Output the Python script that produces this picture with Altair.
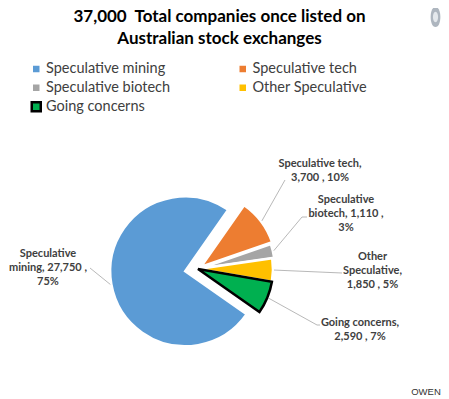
import math
import altair as alt
import pandas as pd

# ---------------- data ----------------
categories = ["Speculative mining", "Speculative tech", "Speculative biotech",
              "Other Speculative", "Going concerns"]
counts = [27750, 3700, 1110, 1850, 2590]
label_texts = [
    "Speculative\nmining, 27,750 ,\n75%",
    "Speculative tech,\n3,700 , 10%",
    "Speculative\nbiotech, 1,110 ,\n3%",
    "Other\nSpeculative,\n1,850 , 5%",
    "Going concerns,\n2,590 , 7%",
]
title_lines = ["37,000\u00a0 Total companies once listed on", "Australian stock exchanges"]
source_text = "OWEN"

# ---------------- styles / layout ----------------
colors = ["#5B9BD5", "#ED7D31", "#A5A5A5", "#FFC000", "#00B050"]
strokes = ["white", "white", "white", "white", "black"]
stroke_widths = [2.5, 2.5, 2.5, 2.5, 2.5]
explode = [13, 4, 2, 0, 0]
W, H, PAD_TOP = 433, 343, 46
OX, OY = 8, 8 + PAD_TOP          # page position of plot origin
CX, CY, R = 198 - OX, 269 - OY, 75
START = math.radians(125)
# label first-line centres and leader end points (page coordinates)
label_pos = [(48, 254), (320, 163.5), (346, 200), (372.5, 257), (360, 323)]
leader_end = [[(90, 268)], [(285, 180)], [(302, 217), (307, 217)],
              [(342, 273)], [(317, 325), (320, 325)]]
title_pos = [(219.5, 21.5), (219.5, 44)]
source_pos = (426, 391.5)
TXT = "#404040"

total = sum(counts)
starts, ends = [], []
acc = 0
for v in counts:
    starts.append(acc)
    acc += v
    ends.append(acc)
mids = [START + 2 * math.pi * (s + v / 2) / total for s, v in zip(starts, counts)]

df = pd.DataFrame({"cat": categories, "count": counts, "start": starts, "end": ends})

theta_scale = alt.Scale(domain=[0, total], range=[START, START + 2 * math.pi])
color_scale = alt.Scale(domain=categories, range=colors)
stroke_scale = alt.Scale(domain=categories, range=strokes)
legend = alt.Legend(title=None, orient="none", legendX=21, legendY=7.5, columns=2,
                    direction="horizontal",
                    symbolType="square", symbolSize=81, symbolStrokeWidth=2.5,
                    labelFont="Lato", labelFontSize=14.5, labelColor=TXT,
                    columnPadding=61.5, rowPadding=-1, padding=0, labelOffset=2.5)

layers = []
for i, c in enumerate(categories):
    a = mids[i]
    dx = explode[i] * math.sin(a)
    dy = -explode[i] * math.cos(a)
    layers.append(
        alt.Chart(df).transform_filter(alt.datum.cat == c)
        .mark_arc(outerRadius=R, strokeWidth=stroke_widths[i], strokeJoin="miter")
        .encode(
            theta=alt.Theta("start:Q", scale=theta_scale, stack=None),
            theta2="end:Q",
            color=alt.Color("cat:N", scale=color_scale, legend=legend),
            stroke=alt.Stroke("cat:N", scale=stroke_scale, legend=legend),
            x=alt.value(CX + dx),
            y=alt.value(CY + dy),
        )
    )

# leader lines
rows = []
for i, c in enumerate(categories):
    a = mids[i]
    ox = CX + explode[i] * math.sin(a)
    oy = CY - explode[i] * math.cos(a)
    pts = [(ox + (R + 1) * math.sin(a), oy - (R + 1) * math.cos(a))]
    pts += [(px - OX, py - OY) for px, py in leader_end[i]]
    for k, (px, py) in enumerate(pts):
        rows.append({"cat": c, "k": k, "px": px, "py": py})
lines_df = pd.DataFrame(rows)
leaders = alt.Chart(lines_df).mark_line(color="#A6A6A6", strokeWidth=0.8).encode(
    x=alt.X("px:Q", scale=None, axis=None),
    y=alt.Y("py:Q", scale=None, axis=None),
    detail="cat:N",
    order="k:Q",
)

lab_df = pd.DataFrame({"cat": categories, "text": label_texts,
                       "lx": [p[0] - OX for p in label_pos],
                       "ly": [p[1] - OY for p in label_pos]})
labels = alt.Chart(lab_df).mark_text(
    font="Lato", fontSize=11, fontWeight="bold", color=TXT, align="center",
    baseline="middle", lineBreak="\n", lineHeight=14
).encode(
    x=alt.X("lx:Q", scale=None, axis=None),
    y=alt.Y("ly:Q", scale=None, axis=None),
    text="text:N",
)

title_df = pd.DataFrame({"t": title_lines,
                         "tx": [p[0] - OX for p in title_pos],
                         "ty": [p[1] - OY for p in title_pos]})
title = alt.Chart(title_df).mark_text(
    font="Lato", fontSize=17, fontWeight="bold", color="black", align="center",
    baseline="alphabetic"
).encode(
    x=alt.X("tx:Q", scale=None, axis=None),
    y=alt.Y("ty:Q", scale=None, axis=None),
    text="t:N",
)

src = alt.Chart(pd.DataFrame({"t": [source_text]})).mark_text(
    font="Liberation Sans", fontSize=9.5, color="#333333", align="center", baseline="middle"
).encode(x=alt.value(source_pos[0] - OX), y=alt.value(source_pos[1] - OY), text="t:N")

logo_df = pd.DataFrame({"s": [400, 110], "c": ["#AEB6BF", "#E4E8EC"]})
logo = alt.Chart(logo_df).mark_point(
    shape="M0,-1C0.65,-1 0.65,1 0,1C-0.65,1 -0.65,-1 0,-1Z", filled=True, opacity=1
).encode(
    x=alt.value(435.5 - OX), y=alt.value(17 - OY),
    size=alt.Size("s:Q", scale=None, legend=None),
    color=alt.Color("c:N", scale=None, legend=None),
)

chart = alt.layer(*layers, leaders, labels, title, src, logo).properties(
    width=W, height=H, autosize="none",
    padding={"top": PAD_TOP, "left": 0, "right": 0, "bottom": 0},
).configure_view(stroke=None)

chart.save("out.html", embed_options={"renderer": "svg", "actions": False})
